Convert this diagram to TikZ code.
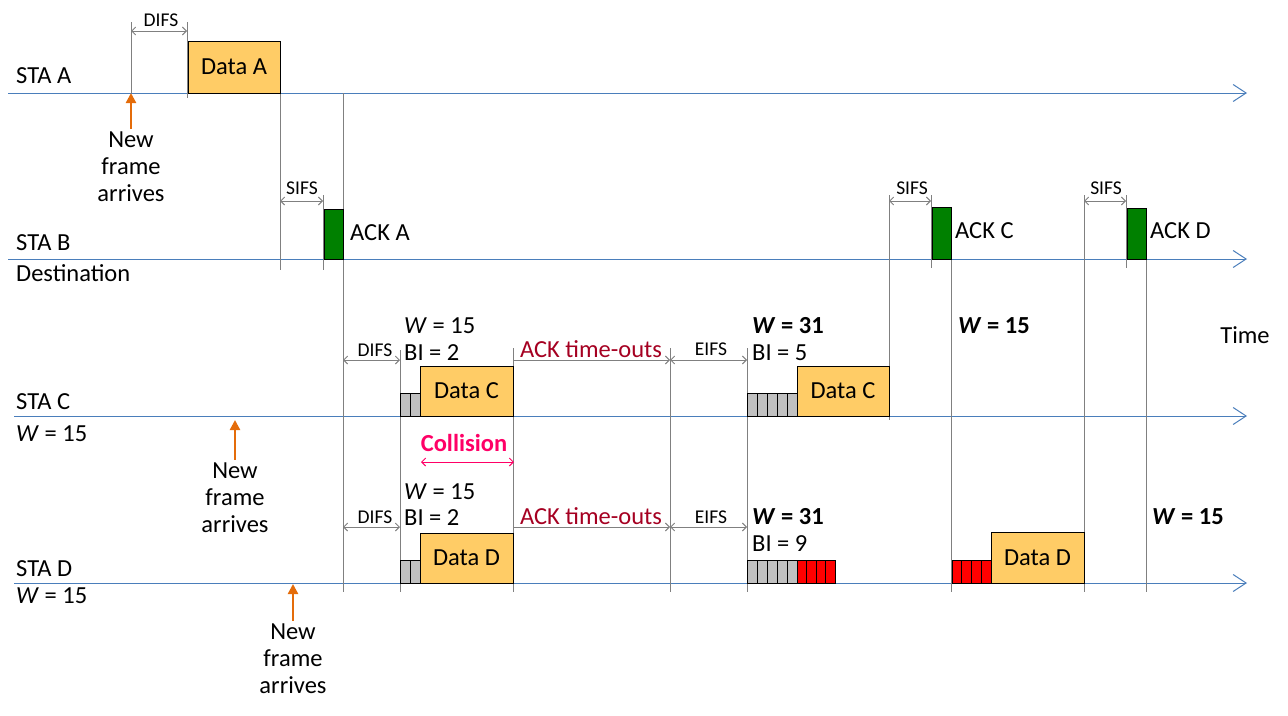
\documentclass[tikz,border=0pt]{standalone}
\usepackage{fontspec}
\setmainfont{Carlito}
\usetikzlibrary{arrows.meta}
\definecolor{axisblue}{HTML}{4A7EBB}
\definecolor{gridgray}{HTML}{808080}
\definecolor{datafill}{HTML}{FFCC66}
\definecolor{ackgreen}{HTML}{008000}
\definecolor{arrorange}{HTML}{E46C0A}
\definecolor{timeoutred}{HTML}{A50021}
\definecolor{collmag}{HTML}{FF0066}
\definecolor{cellgray}{HTML}{C0C0C0}
\tikzset{
  bigtxt/.style={font=\fontsize{24.5}{27}\selectfont, inner sep=0pt},
  smalltxt/.style={font=\fontsize{19.5}{21}\selectfont, inner sep=0pt},
  axisline/.style={draw=axisblue, line width=1pt, -{Straight Barb[length=13pt,width=17pt,line width=1pt]}},
  vline/.style={draw=gridgray, line width=1pt},
  dimarrow/.style={draw=gridgray, line width=0.9pt, {Straight Barb[length=4pt,width=8pt]}-{Straight Barb[length=4pt,width=8pt]}},
  endarrow/.style={draw=gridgray, line width=0.9pt, -{Straight Barb[length=4pt,width=8pt]}},
  databox/.style={draw=black, fill=datafill, line width=0.9pt, inner sep=0pt, outer sep=0pt, anchor=south west, font=\fontsize{24.5}{27}\selectfont},
  ackbox/.style={draw=black, fill=ackgreen, line width=0.9pt, inner sep=0pt, outer sep=0pt, anchor=south west, minimum width=19pt},
  cellbox/.style={draw=black, line width=0.8pt, inner sep=0pt, outer sep=0pt, anchor=south west, minimum height=23pt},
  newarrow/.style={draw=arrorange, line width=2.3pt, -{Triangle[length=10pt,width=10pt]}},
}
\begin{document}
\begin{tikzpicture}[x=1pt,y=-1pt]
\useasboundingbox (0,0) rectangle (1288,715);

% ---------- axes ----------
\coordinate (aS) at (8,93);   \coordinate (aE) at (1247,93);
\coordinate (bS) at (8,259);  \coordinate (bE) at (1247,259);
\coordinate (cS) at (14,416); \coordinate (cE) at (1247,416);
\coordinate (dS) at (14,583); \coordinate (dE) at (1247,583);
\draw[axisline] (aS) -- (aE);
\draw[axisline] (bS) -- (bE);
\draw[axisline] (cS) -- (cE);
\draw[axisline] (dS) -- (dE);

% ---------- station labels ----------
\node[bigtxt, anchor=west] (lA) at (16,76) {STA A};
\node[bigtxt, anchor=west] (lB) at (16,243) {STA B};
\node[bigtxt, anchor=west] (lDest) at (16,273) {Destination};
\node[bigtxt, anchor=west] (lC) at (16,402) {STA C};
\node[bigtxt, anchor=west] (lCW) at (16,434) {\textit{W} = 15};
\node[bigtxt, anchor=west] (lD) at (16,569) {STA D};
\node[bigtxt, anchor=west] (lDW) at (16,596) {\textit{W} = 15};
\node[bigtxt] (time) at (1245,335) {Time};

% ---------- vertical guide lines ----------
\foreach \x/\ya/\yb in {131/22/93, 187/22/98, 280/93/270, 343/93/592, 323/195/270,
  400/350/592, 513/348/592, 670/348/592, 747/348/592, 889/195/420, 931/195/268,
  951/259/592, 1084/195/592, 1126/195/268, 1146/259/592}
  \draw[vline] (\x,\ya) -- (\x,\yb);

% ---------- frames ----------
\node[databox, minimum width=92pt, minimum height=52pt] (dataA) at (188,93) {Data A};
\node[ackbox, minimum height=50pt] (ackA) at (324,259) {};
\node[bigtxt, anchor=west] (ackAl) at (350,233) {ACK A};
\node[ackbox, minimum height=52pt] (ackC) at (932,259) {};
\node[bigtxt, anchor=west] (ackCl) at (955,231) {ACK C};
\node[ackbox, minimum height=51pt] (ackD) at (1127,259) {};
\node[bigtxt, anchor=west] (ackDl) at (1150,231) {ACK D};

% STA C
\foreach \i in {0,1}
  \node[cellbox, fill=cellgray, minimum width=10pt] (c1cell\i) at (400+10*\i,416) {};
\node[databox, minimum width=93pt, minimum height=50pt] (dataC1) at (420,416) {Data C};
\foreach \i in {0,...,4}
  \node[cellbox, fill=cellgray, minimum width=10pt] (c2cell\i) at (747+10*\i,416) {};
\node[databox, minimum width=92pt, minimum height=50pt] (dataC2) at (797,416) {Data C};

% STA D
\foreach \i in {0,1}
  \node[cellbox, fill=cellgray, minimum width=10pt] (d1cell\i) at (400+10*\i,583) {};
\node[databox, minimum width=93pt, minimum height=50pt] (dataD1) at (420,583) {Data D};
\foreach \i in {0,...,4}
  \node[cellbox, fill=cellgray, minimum width=10pt] (d2cell\i) at (747+10*\i,583) {};
\foreach \i in {0,...,3}
  \node[cellbox, fill=red, minimum width=9.6pt] (d2red\i) at (797+9.6*\i,583) {};
\foreach \i in {0,...,3}
  \node[cellbox, fill=red, minimum width=9.75pt] (d3red\i) at (952+9.75*\i,583) {};
\node[databox, minimum width=93pt, minimum height=51pt] (dataD2) at (991,583) {Data D};

% ---------- interval arrows ----------
\coordinate (difsA1) at (131,31); \coordinate (difsA2) at (187,31);
\draw[dimarrow] (difsA1) -- (difsA2);
\node[smalltxt] (difsAl) at (161,20) {DIFS};

\coordinate (sifsA1) at (280,201); \coordinate (sifsA2) at (323,201);
\draw[dimarrow] (sifsA1) -- (sifsA2);
\node[smalltxt] (sifsAl) at (302,188) {SIFS};

\coordinate (sifsC1) at (889,201); \coordinate (sifsC2) at (931,201);
\draw[dimarrow] (sifsC1) -- (sifsC2);
\node[smalltxt] (sifsCl) at (912,188) {SIFS};

\coordinate (sifsD1) at (1084,201); \coordinate (sifsD2) at (1126,201);
\draw[dimarrow] (sifsD1) -- (sifsD2);
\node[smalltxt] (sifsDl) at (1106,188) {SIFS};

% STA C intervals
\coordinate (c1) at (343,360); \coordinate (c2) at (400,360);
\coordinate (c3) at (513,360); \coordinate (c4) at (670,360); \coordinate (c5) at (747,360);
\draw[dimarrow] (c1) -- (c2);
\draw[endarrow] (c3) -- (c4);
\draw[dimarrow] (c4) -- (c5);
\node[smalltxt] (difsCl) at (375,350) {DIFS};
\node[bigtxt, text=timeoutred] (toC) at (591,349) {ACK time-outs};
\node[smalltxt] (eifsCl) at (711,349) {EIFS};

% STA D intervals
\coordinate (d1) at (343,527); \coordinate (d2) at (400,527);
\coordinate (d3) at (513,527); \coordinate (d4) at (670,527); \coordinate (d5) at (747,527);
\draw[dimarrow] (d1) -- (d2);
\draw[endarrow] (d3) -- (d4);
\draw[dimarrow] (d4) -- (d5);
\node[smalltxt] (difsDl) at (375,517) {DIFS};
\node[bigtxt, text=timeoutred] (toD) at (591,516) {ACK time-outs};
\node[smalltxt] (eifsDl) at (711,517) {EIFS};

% collision
\coordinate (col1) at (421,462); \coordinate (col2) at (514,462);
\draw[draw=collmag, line width=1pt, {Straight Barb[length=4pt,width=8pt]}-{Straight Barb[length=4pt,width=8pt]}] (col1) -- (col2);
\node[bigtxt, text=collmag, font=\fontsize{24.5}{27}\selectfont\bfseries] (coll) at (464,443) {Collision};

% ---------- window / backoff labels ----------
\node[bigtxt, anchor=west] (wC1) at (404,326) {\textit{W} = 15};
\node[bigtxt, anchor=west] (biC1) at (404,353) {BI = 2};
\node[bigtxt, anchor=west] (wC2) at (752,326) {\textbf{\textit{W} = 31}};
\node[bigtxt, anchor=west] (biC2) at (752,353) {BI = 5};
\node[bigtxt, anchor=west] (wC3) at (958,326) {\textbf{\textit{W} = 15}};
\node[bigtxt, anchor=west] (wD1) at (404,492) {\textit{W} = 15};
\node[bigtxt, anchor=west] (biD1) at (404,518) {BI = 2};
\node[bigtxt, anchor=west] (wD2) at (752,517) {\textbf{\textit{W} = 31}};
\node[bigtxt, anchor=west] (biD2) at (752,544) {BI = 9};
\node[bigtxt, anchor=west] (wD3) at (1152,517) {\textbf{\textit{W} = 15}};

% ---------- new frame arrivals ----------
\node[bigtxt, align=center] (nfA) at (131,167) {New\\frame\\arrives};
\coordinate (nfAt) at (131,93);
\draw[newarrow] (nfA.north) ++(0,-3) -- (nfAt);
\node[bigtxt, align=center] (nfC) at (235,498) {New\\frame\\arrives};
\coordinate (nfCt) at (235,420);
\draw[newarrow] (nfC.north) ++(0,-3) -- (nfCt);
\node[bigtxt, align=center] (nfD) at (293,659) {New\\frame\\arrives};
\coordinate (nfDt) at (293,584);
\draw[newarrow] (nfD.north) ++(0,-3) -- (nfDt);
\end{tikzpicture}
\end{document}
